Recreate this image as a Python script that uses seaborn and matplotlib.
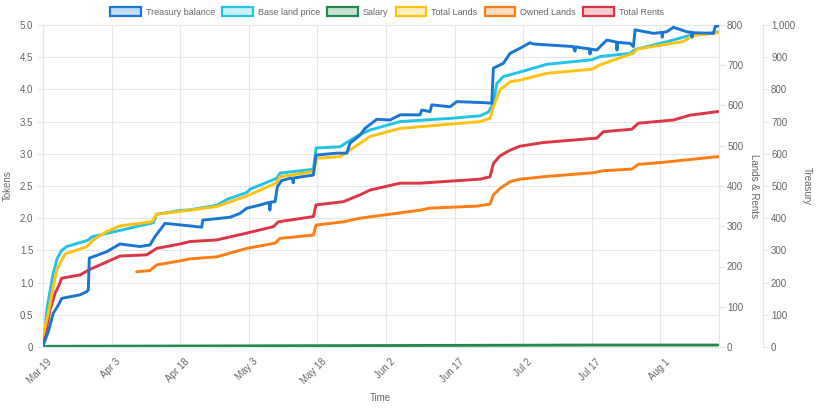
import numpy as np
import pandas as pd
import matplotlib
matplotlib.use('Agg')
import matplotlib.pyplot as plt
import matplotlib.transforms as mtrans
from matplotlib.patches import Patch
import seaborn as sns

sns.set_style('white')
plt.rcParams['font.family'] = ['Liberation Sans', 'DejaVu Sans']

# 데이터 (x = days since Mar 19)
start = pd.Timestamp('2023-03-19')

treasury_days = [0, 0.07, 1.16, 2.25, 3.35, 4.09, 8.09, 9.56, 9.91, 10.12, 13.93, 16.84, 21.21, 23.40, 24.49,
                 26.68, 32.15, 34.70, 34.92, 40.89, 43.08, 44.54, 47.45, 49.4, 49.6, 49.8, 50.73, 51.24, 52.20,
                 54.01, 54.6, 54.7, 54.8, 59.11, 59.70,
                 64.22, 66.41, 67.13, 69.32, 70.41, 72.97, 75.88, 78.07, 82.44, 82.81, 84.63, 85.00, 89.00, 90.46,
                 96.28, 98.12, 98.47, 100.66, 102.12, 104.31, 106.49, 107.22, 115.96, 116.3, 116.5, 118.15,
                 119.5, 119.6, 119.7, 121.08, 122.17, 123.27, 125.4, 125.5, 125.6, 128.36, 129.08, 129.46, 133.46,
                 135.3, 135.4, 135.5, 136.39, 137.83, 140.76, 141.8, 141.9, 142.0, 142.20, 146.58, 146.95, 147.6]
treasury_vals = [0, 6, 48, 105, 130, 151, 162, 172, 177, 276, 296, 320, 312, 317, 343,
                 384, 376, 372, 394, 403, 415, 431, 441, 449, 425, 450, 451, 498, 517,
                 524, 524, 510, 525, 534, 596,
                 602, 602, 633, 658, 679, 707, 705, 721, 721, 736, 731, 752, 746, 762,
                 759, 757, 866, 881, 912, 928, 945, 941, 933, 919, 932, 928,
                 926, 910, 925, 922, 938, 953, 947, 922, 946, 943, 933, 985, 974,
                 977, 962, 977, 979, 993, 979, 977, 962, 977, 976, 974, 995, 997]

price_days = [0.07, 0.94, 2.25, 3.13, 4.09, 5.18, 9.91, 10.65, 24.12, 24.86, 29.96, 32.15, 37.98, 40.17,
              44.54, 45.27, 51.10, 51.83, 59.11, 59.70, 64.95, 67.85, 69.32, 71.51, 78.07, 89.0, 95.56, 97.38,
              98.47, 99.21, 100.66, 104.31, 105.77, 110.15, 119.99, 121.80, 128.36, 129.46, 136.39, 141.48, 147.6]
price_vals = [0.06, 0.63, 1.15, 1.38, 1.50, 1.56, 1.66, 1.71, 1.93, 2.06, 2.12, 2.13, 2.20, 2.29,
              2.40, 2.45, 2.62, 2.70, 2.76, 3.09, 3.11, 3.24, 3.30, 3.37, 3.50, 3.55, 3.59, 3.65,
              3.78, 4.09, 4.20, 4.27, 4.30, 4.39, 4.46, 4.51, 4.56, 4.62, 4.74, 4.84, 4.89]

salary_days = [0, 1, 10, 30, 60, 90, 120, 147.6]
salary_vals = [0, 0.01, 0.012, 0.015, 0.02, 0.025, 0.03, 0.03]

lands_days = [0.07, 1.16, 2.25, 3.0, 3.72, 4.81, 9.56, 11.0, 13.93, 16.84, 23.77, 24.86, 32.15, 37.98,
              44.54, 51.10, 51.83, 59.11, 59.85, 64.95, 69.32, 71.51, 78.07, 95.56, 97.75, 98.47, 99.93,
              102.12, 104.31, 110.15, 119.99, 121.80, 129.08, 129.83, 140.02, 141.85, 147.6]
lands_vals = [30, 84, 150, 191, 208, 231, 249, 266, 287, 301, 311, 330, 340, 349,
              375, 408, 423, 436, 469, 473, 506, 523, 543, 560, 568, 597, 639,
              659, 663, 680, 690, 701, 730, 740, 759, 773, 781]

owned_days = [20.49, 23.40, 24.86, 29.96, 32.15, 37.98, 44.54, 50.73, 51.83, 59.11, 59.70, 65.67, 69.32,
              82.44, 84.63, 94.84, 97.75, 98.47, 99.93, 102.12, 104.31, 109.40, 120.34, 122.52, 128.73,
              130.18, 134.92, 140.76, 147.6]
owned_vals = [187, 190, 204, 214, 219, 224, 245, 258, 270, 278, 303, 311, 320,
              340, 345, 350, 355, 378, 394, 411, 417, 423, 433, 438, 442,
              454, 458, 465, 473]

rents_days = [0.07, 1.53, 2.62, 3.35, 4.09, 8.09, 10.28, 16.84, 22.68, 24.86, 29.96, 32.15, 37.98, 44.54,
              50.36, 51.45, 59.11, 59.70, 65.67, 69.32, 71.51, 78.07, 82.44, 95.56, 97.75, 98.47, 99.93,
              102.12, 104.31, 109.40, 121.08, 122.52, 128.73, 130.18, 137.83, 141.48, 147.6]
rents_vals = [5, 92, 133, 150, 171, 179, 193, 226, 229, 245, 256, 262, 266, 283,
              299, 311, 324, 353, 361, 378, 390, 407, 407, 417, 423, 456, 475,
              489, 499, 508, 519, 535, 541, 556, 564, 576, 585]

names = ['Treasury balance', 'Base land price', 'Salary', 'Total Lands', 'Owned Lands', 'Total Rents']
line_colors = ['#1976d2', '#22c3e6', '#23884f', '#ffc20e', '#fd7e14', '#dc3545']
fill_colors = ['#c5dcf5', '#c9f1f9', '#c8e3d3', '#fff0c2', '#ffdcc2', '#f8cdd2']

txt = '#666666'
grid_c = '#e6e6e6'


def to_dates(days):
    return start + pd.to_timedelta(days, unit='D')


fig = plt.figure(figsize=(8.17, 4.08), dpi=100)
ax = fig.add_axes([43 / 817, 1 - 347 / 408, 676 / 817, 322 / 408])
ax2 = ax.twinx()
ax3 = ax.twinx()
ax3.spines['right'].set_position(('axes', 720 / 676))

lw = 2.1
sns.lineplot(x=to_dates(price_days), y=price_vals, ax=ax, color=line_colors[1], lw=lw)
sns.lineplot(x=to_dates(salary_days), y=salary_vals, ax=ax, color=line_colors[2], lw=lw)
sns.lineplot(x=to_dates(rents_days), y=rents_vals, ax=ax2, color=line_colors[5], lw=lw)
sns.lineplot(x=to_dates(owned_days), y=owned_vals, ax=ax2, color=line_colors[4], lw=lw)
sns.lineplot(x=to_dates(lands_days), y=lands_vals, ax=ax2, color=line_colors[3], lw=lw)
sns.lineplot(x=to_dates(treasury_days), y=treasury_vals, ax=ax3, color=line_colors[0], lw=lw)

# 축 범위
ax.set_xlim(start, start + pd.Timedelta(days=147.8))
ax.set_ylim(0, 5)
ax2.set_ylim(0, 800)
ax3.set_ylim(0, 1000)

ticks = pd.date_range(start, periods=10, freq='15D')
ax.set_xticks(ticks)
ax.set_xticklabels([f'{d:%b} {d.day}' for d in ticks])

yt = np.arange(0, 5.01, 0.5)
ax.set_yticks(yt)
ax.set_yticklabels(['0'] + [f'{v:.1f}' for v in yt[1:]])
ax2.set_yticks(range(0, 801, 100))
ax3.set_yticks(range(0, 1001, 100))
ax3.set_yticklabels([f'{v:,}' for v in range(0, 1001, 100)])

for a in (ax, ax2, ax3):
    a.set_xlabel('')
    a.set_ylabel('')
    for s in a.spines.values():
        s.set_color(grid_c)
        s.set_linewidth(0.8)
ax.grid(True, color=grid_c, lw=0.8)
ax2.grid(False)
ax3.grid(False)
for side in ('left', 'top', 'bottom'):
    ax3.spines[side].set_visible(False)
    ax2.spines[side].set_visible(False)

ax.tick_params(axis='both', length=4, color=grid_c, labelsize=7, labelcolor=txt, pad=3)
ax2.tick_params(axis='y', length=4.3, color=grid_c, labelsize=7, labelcolor=txt, pad=1.5)
ax3.tick_params(axis='y', length=4.3, color=grid_c, labelsize=7, labelcolor=txt, pad=1.5)

off = mtrans.ScaledTranslation(4 / 100, 0, fig.dpi_scale_trans)
for lbl in ax.get_xticklabels():
    lbl.set_rotation(45)
    lbl.set_ha('right')
    lbl.set_va('top')
    lbl.set_rotation_mode('anchor')
    lbl.set_transform(lbl.get_transform() + off)

# 축 제목
fig.text(8 / 817, 1 - 186 / 408, 'Tokens', rotation=90, ha='center', va='center', fontsize=7, color=txt)
fig.text(754 / 817, 1 - 186 / 408, 'Lands & Rents', rotation=-90, ha='center', va='center', fontsize=7, color=txt)
fig.text(807 / 817, 1 - 186 / 408, 'Treasury', rotation=-90, ha='center', va='center', fontsize=7, color=txt)
fig.text(380 / 817, 1 - 398 / 408, 'Time', ha='center', va='center', fontsize=7, color=txt)

# 범례
handles = [Patch(facecolor=f, edgecolor=c, lw=1.6) for f, c in zip(fill_colors, line_colors)]
fig.legend(handles, names, loc='center', bbox_to_anchor=(387 / 817, 1 - 12 / 408), ncol=6, frameon=False,
           fontsize=6.5, labelcolor=txt, handlelength=3.4, handleheight=1.1, handletextpad=0.55,
           columnspacing=0.8)

fig.savefig('out.png', dpi=100)
